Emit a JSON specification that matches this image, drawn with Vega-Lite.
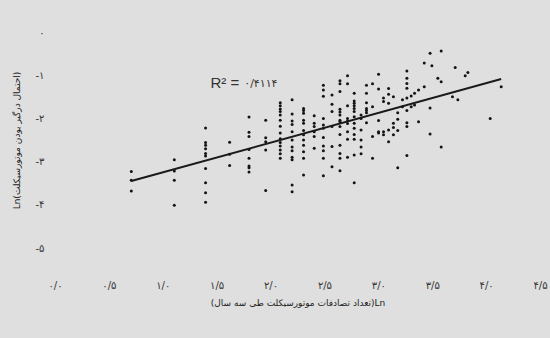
{
  "$schema": "https://vega.github.io/schema/vega-lite/v6.json",
  "autosize": {"type": "none"},
  "width": 485,
  "height": 216,
  "padding": {"left": 55, "top": 32, "right": 10, "bottom": 90},
  "background": "#dfdfdf",
  "config": {
    "view": {"stroke": null},
    "font": "DejaVu Sans"
  },
  "datasets": {
    "pts": [
      {"x":0.708,"y":-3.23},{"x":0.708,"y":-3.43},{"x":0.708,"y":-3.68},
      {"x":1.107,"y":-2.96},{"x":1.107,"y":-3.22},{"x":1.107,"y":-3.43},{"x":1.107,"y":-4.01},
      {"x":1.397,"y":-2.22},{"x":1.397,"y":-2.56},{"x":1.397,"y":-2.62},{"x":1.397,"y":-2.70},{"x":1.397,"y":-2.81},{"x":1.397,"y":-2.87},{"x":1.397,"y":-3.16},{"x":1.397,"y":-3.49},{"x":1.397,"y":-3.72},{"x":1.397,"y":-3.94},
      {"x":1.62,"y":-2.55},{"x":1.62,"y":-2.83},{"x":1.62,"y":-3.09},
      {"x":1.80,"y":-1.97},{"x":1.80,"y":-2.32},{"x":1.80,"y":-2.42},{"x":1.80,"y":-2.72},{"x":1.80,"y":-2.92},{"x":1.80,"y":-3.10},{"x":1.80,"y":-3.14},{"x":1.80,"y":-3.24},
      {"x":1.955,"y":-2.04},{"x":1.955,"y":-2.45},{"x":1.955,"y":-2.54},{"x":1.955,"y":-2.73},{"x":1.955,"y":-3.67},
      {"x":2.09,"y":-1.64},{"x":2.09,"y":-1.71},{"x":2.09,"y":-1.78},{"x":2.09,"y":-1.84},{"x":2.09,"y":-1.92},{"x":2.09,"y":-2.04},{"x":2.09,"y":-2.18},{"x":2.09,"y":-2.34},{"x":2.09,"y":-2.47},{"x":2.09,"y":-2.56},{"x":2.09,"y":-2.64},{"x":2.09,"y":-2.73},{"x":2.09,"y":-2.82},{"x":2.09,"y":-2.92},
      {"x":2.20,"y":-1.57},{"x":2.20,"y":-1.90},{"x":2.20,"y":-2.06},{"x":2.20,"y":-2.14},{"x":2.20,"y":-2.31},{"x":2.20,"y":-2.50},{"x":2.20,"y":-2.66},{"x":2.20,"y":-2.75},{"x":2.20,"y":-2.90},{"x":2.20,"y":-2.96},{"x":2.20,"y":-3.54},{"x":2.20,"y":-3.70},
      {"x":2.306,"y":-1.77},{"x":2.306,"y":-1.82},{"x":2.306,"y":-1.88},{"x":2.306,"y":-2.04},{"x":2.306,"y":-2.11},{"x":2.306,"y":-2.28},{"x":2.306,"y":-2.38},{"x":2.306,"y":-2.50},{"x":2.306,"y":-2.62},{"x":2.306,"y":-2.77},{"x":2.306,"y":-2.92},{"x":2.306,"y":-3.31},
      {"x":2.405,"y":-1.94},{"x":2.405,"y":-2.11},{"x":2.405,"y":-2.19},{"x":2.405,"y":-2.31},{"x":2.405,"y":-2.42},{"x":2.405,"y":-2.69},
      {"x":2.49,"y":-1.23},{"x":2.49,"y":-1.34},{"x":2.49,"y":-1.49},{"x":2.49,"y":-2.00},{"x":2.49,"y":-2.15},{"x":2.49,"y":-2.23},{"x":2.49,"y":-2.44},{"x":2.49,"y":-2.64},{"x":2.49,"y":-2.75},{"x":2.49,"y":-2.92},{"x":2.49,"y":-3.33},
      {"x":2.57,"y":-1.46},{"x":2.57,"y":-1.67},{"x":2.57,"y":-1.84},{"x":2.57,"y":-2.19},{"x":2.57,"y":-2.65},{"x":2.57,"y":-3.12},
      {"x":2.644,"y":-1.13},{"x":2.644,"y":-1.20},{"x":2.644,"y":-1.38},{"x":2.644,"y":-1.79},{"x":2.644,"y":-1.85},{"x":2.644,"y":-1.92},{"x":2.644,"y":-2.04},{"x":2.644,"y":-2.08},{"x":2.644,"y":-2.19},{"x":2.644,"y":-2.37},{"x":2.644,"y":-2.62},{"x":2.644,"y":-2.81},{"x":2.644,"y":-2.92},{"x":2.644,"y":-3.21},
      {"x":2.714,"y":-1.01},{"x":2.714,"y":-1.20},{"x":2.714,"y":-1.71},{"x":2.714,"y":-2.00},{"x":2.714,"y":-2.06},{"x":2.714,"y":-2.12},{"x":2.714,"y":-2.31},{"x":2.714,"y":-2.48},{"x":2.714,"y":-2.90},
      {"x":2.776,"y":-1.42},{"x":2.776,"y":-1.60},{"x":2.776,"y":-1.65},{"x":2.776,"y":-1.71},{"x":2.776,"y":-1.77},{"x":2.776,"y":-1.84},{"x":2.776,"y":-1.96},{"x":2.776,"y":-2.11},{"x":2.776,"y":-2.23},{"x":2.776,"y":-2.37},{"x":2.776,"y":-2.48},{"x":2.776,"y":-2.85},{"x":2.776,"y":-3.49},
      {"x":2.84,"y":-1.92},{"x":2.84,"y":-2.00},{"x":2.84,"y":-2.27},{"x":2.84,"y":-2.50},{"x":2.84,"y":-2.66},{"x":2.84,"y":-2.82},
      {"x":2.89,"y":-1.23},{"x":2.89,"y":-1.42},{"x":2.89,"y":-1.64},{"x":2.89,"y":-1.77},{"x":2.89,"y":-1.82},{"x":2.89,"y":-1.87},{"x":2.89,"y":-2.10},
      {"x":2.946,"y":-1.20},{"x":2.946,"y":-1.73},{"x":2.946,"y":-2.42},{"x":2.946,"y":-2.92},
      {"x":3.002,"y":-0.98},{"x":3.002,"y":-1.32},{"x":3.002,"y":-2.05},{"x":3.002,"y":-2.31},{"x":3.002,"y":-2.34},
      {"x":3.048,"y":-1.53},{"x":3.048,"y":-1.61},{"x":3.048,"y":-2.31},{"x":3.048,"y":-2.38},
      {"x":3.095,"y":-1.31},{"x":3.095,"y":-1.44},{"x":3.095,"y":-1.65},{"x":3.095,"y":-2.27},{"x":3.095,"y":-2.54},
      {"x":3.14,"y":-1.50},{"x":3.14,"y":-2.11},{"x":3.14,"y":-2.21},{"x":3.14,"y":-2.38},
      {"x":3.18,"y":-1.87},{"x":3.18,"y":-2.02},{"x":3.18,"y":-2.28},{"x":3.18,"y":-3.14},
      {"x":3.224,"y":-1.57},{"x":3.224,"y":-1.73},
      {"x":3.265,"y":-0.90},{"x":3.265,"y":-1.07},{"x":3.265,"y":-1.19},{"x":3.265,"y":-1.30},{"x":3.265,"y":-1.53},{"x":3.265,"y":-1.82},{"x":3.265,"y":-2.10},{"x":3.265,"y":-2.19},{"x":3.265,"y":-2.86},
      {"x":3.305,"y":-1.48},{"x":3.305,"y":-1.73},
      {"x":3.336,"y":-1.42},{"x":3.336,"y":-1.69},
      {"x":3.373,"y":-1.34},{"x":3.373,"y":-2.08},
      {"x":3.426,"y":-0.72},{"x":3.426,"y":-1.27},
      {"x":3.48,"y":-0.49},{"x":3.48,"y":-1.76},{"x":3.48,"y":-2.36},
      {"x":3.497,"y":-0.78},
      {"x":3.552,"y":-1.07},
      {"x":3.583,"y":-0.44},{"x":3.583,"y":-1.15},{"x":3.583,"y":-2.66},
      {"x":3.688,"y":-1.50},
      {"x":3.713,"y":-0.82},
      {"x":3.738,"y":-1.57},
      {"x":3.806,"y":-1.01},
      {"x":3.831,"y":-0.94},
      {"x":4.038,"y":-2.00},
      {"x":4.14,"y":-1.27}
    ],
    "fit": [
      {"x":0.708,"y":-3.45},
      {"x":4.14,"y":-1.09}
    ]
  },
  "layer": [
    {
      "data": {"name": "pts"},
      "mark": {"type": "circle", "size": 9, "color": "#141414", "opacity": 1},
      "encoding": {
        "x": {
          "field": "x", "type": "quantitative",
          "scale": {"domain": [0, 4.5], "nice": false, "zero": false},
          "axis": {
            "values": [0, 0.5, 1, 1.5, 2, 2.5, 3, 3.5, 4, 4.5],
            "labelExpr": "substring('۰۱۲۳۴۵۶۷۸۹', floor(datum.value + 0.001), floor(datum.value + 0.001) + 1) + '/' + ((datum.value % 1) > 0.25 ? '۵' : '۰')",
            "title": "(تعداد تصادفات موتورسیکلت طی سه سال)Ln",
            "grid": false, "domain": false, "ticks": false,
            "labelFlush": false, "labelOverlap": false,
            "labelPadding": 32, "labelFontSize": 10, "labelColor": "#333333",
            "titlePadding": 8, "titleFontSize": 9, "titleFontWeight": "normal", "titleColor": "#222222"
          }
        },
        "y": {
          "field": "y", "type": "quantitative",
          "scale": {"domain": [-5, 0], "nice": false, "zero": false},
          "axis": {
            "values": [-5, -4, -3, -2, -1, 0],
            "labelExpr": "datum.value == 0 ? '۰' : '-' + substring('۰۱۲۳۴۵۶۷۸۹', round(-datum.value), round(-datum.value) + 1)",
            "title": "Ln(احتمال درگیر بودن موتورسیکلت)",
            "grid": false, "domain": false, "ticks": false,
            "labelFlush": false, "labelOverlap": false,
            "labelPadding": 11, "labelFontSize": 10, "labelColor": "#333333",
            "titlePadding": 14, "titleFontSize": 9, "titleFontWeight": "normal", "titleColor": "#222222"
          }
        }
      }
    },
    {
      "data": {"name": "fit"},
      "mark": {"type": "line", "color": "#1a1a1a", "strokeWidth": 2},
      "encoding": {
        "x": {"field": "x", "type": "quantitative"},
        "y": {"field": "y", "type": "quantitative"}
      }
    },
    {
      "data": {"values": [{"t": "R² ="}]},
      "mark": {"type": "text", "align": "right", "baseline": "middle", "fontSize": 15, "color": "#333333", "font": "Liberation Sans"},
      "encoding": {
        "x": {"datum": 1.71, "type": "quantitative"},
        "y": {"datum": -1.18, "type": "quantitative"},
        "text": {"field": "t"}
      }
    },
    {
      "data": {"values": [{"t": "۰/۴۱۱۴"}]},
      "mark": {"type": "text", "align": "left", "baseline": "middle", "fontSize": 11, "color": "#333333"},
      "encoding": {
        "x": {"datum": 1.756, "type": "quantitative"},
        "y": {"datum": -1.2, "type": "quantitative"},
        "text": {"field": "t"}
      }
    }
  ]
}
